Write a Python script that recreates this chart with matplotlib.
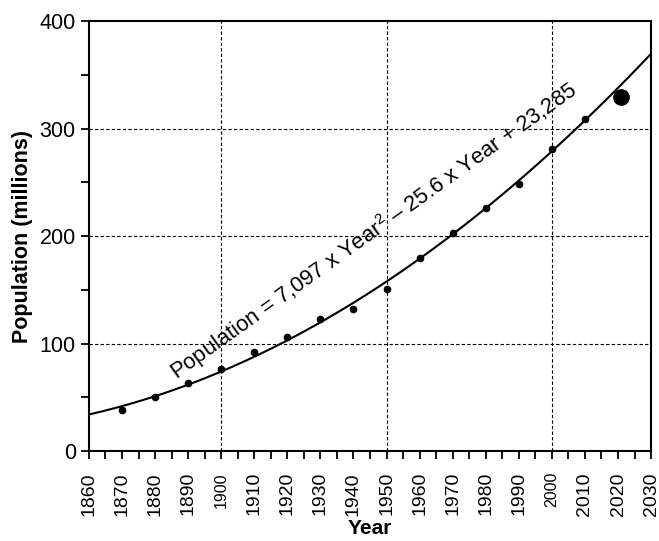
import numpy as np
import matplotlib
matplotlib.use("Agg")
import matplotlib.pyplot as plt

plt.rcParams['font.family'] = ['Liberation Sans', 'DejaVu Sans']
plt.rcParams['mathtext.fontset'] = 'custom'
plt.rcParams['mathtext.rm'] = 'Liberation Sans'
plt.rcParams['mathtext.it'] = 'Liberation Sans'

# census points
years = [1870, 1880, 1890, 1900, 1910, 1920, 1930, 1940, 1950, 1960, 1970, 1980, 1990, 2000, 2010]
pop = [38.6, 50.2, 63.0, 76.2, 92.2, 106.0, 123.2, 132.2, 151.3, 179.3, 203.3, 226.5, 248.7, 281.4, 308.7]
# the big dot (latest estimate)
big_year = [2021]
big_pop = [329]

xticks = list(range(1860, 2031, 10))
small_labels = [1900, 2000]  # these two are printed smaller in the original

fig = plt.figure(figsize=(6.59, 5.41), dpi=100)
ax = fig.add_axes([0.135, 0.166, 0.853, 0.795])

# quadratic trend fitted to the points
coef = np.polyfit(years, pop, 2)
xs = np.linspace(1860, 2030, 300)
ax.plot(xs, np.polyval(coef, xs), color='black', lw=1.5, zorder=3)

ax.plot(years, pop, 'o', color='black', ms=4.5, zorder=4)
ax.plot(big_year, big_pop, 'o', color='black', ms=11, zorder=4)

ax.set_xlim(1860, 2030)
ax.set_ylim(0, 400)

# dashed grid only at 1900/1950/2000 and 100/200/300
for gx in [1900, 1950, 2000]:
    ax.axvline(gx, color='black', lw=0.8, ls=(0, (3, 2)), zorder=1)
for gy in [100, 200, 300]:
    ax.axhline(gy, color='black', lw=0.8, ls=(0, (3, 2)), zorder=1)

ax.tick_params(axis='both', which='both', direction='out', width=1.3, color='black', length=6)
ax.tick_params(axis='y', which='major', labelsize=15.5)
ax.tick_params(axis='x', which='major', pad=9)

ax.set_yticks([0, 100, 200, 300, 400])
ax.set_yticks([50, 150, 250, 350], minor=True)
ax.set_xticks(xticks)
ax.set_xticks(list(range(1865, 2030, 10)), minor=True)
ax.set_xticklabels([str(y) for y in xticks], rotation=90, fontsize=14, va='top')
for lab in ax.get_xticklabels():
    if int(lab.get_text()) in small_labels:
        lab.set_fontsize(11.5)

for s in ax.spines.values():
    s.set_linewidth(1.5)

ax.set_xlabel('Year', fontsize=15, fontweight='bold')
ax.xaxis.set_label_coords(0.5, -0.158)
ax.set_ylabel('Population (millions)', fontsize=15.5, fontweight='bold', labelpad=5)

ax.text(1946.2, 204.7, 'Population = 7,097 x Year$^2$ – 25.6 x Year + 23,285',
        rotation=35.5, fontsize=15.8, ha='center', va='center',
        rotation_mode='anchor', zorder=5)

fig.savefig('out.png', dpi=100)
